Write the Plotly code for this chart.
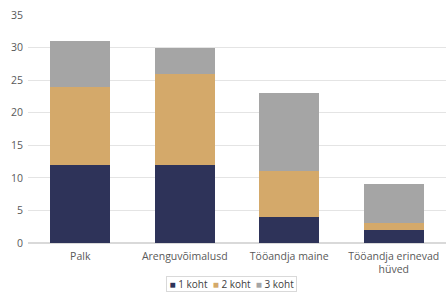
import plotly.graph_objects as go

categories = ["Palk", "Arenguvõimalusd", "Tööandja maine", "Tööandja erinevad<br>hüved"]
series_names = ["1 koht", "2 koht", "3 koht"]
koht1 = [12, 12, 4, 2]
koht2 = [12, 14, 7, 1]
koht3 = [7, 4, 12, 6]
colors = ["#2E3359", "#D4A96A", "#A5A5A5"]

fig = go.Figure()
for name, vals, c in zip(series_names, [koht1, koht2, koht3], colors):
    fig.add_trace(go.Bar(x=categories, y=vals, name=name, showlegend=False,
                         marker=dict(color=c, line=dict(width=0))))

legend_text = "&nbsp;&nbsp;".join(
    f"<span style='color:{c};font-size:10px'>■</span>&nbsp;{n}" for n, c in zip(series_names, colors)
)
fig.add_annotation(
    text="&nbsp;" + legend_text + "&nbsp;", xref="paper", yref="paper", x=0.486, y=-0.178,
    xanchor="center", yanchor="middle", showarrow=False,
    bordercolor="#D9D9D9", borderwidth=1, borderpad=0,
    font=dict(size=10, color="#404040"),
)

fig.update_layout(
    barmode="stack",
    bargap=0.43,
    width=446, height=292,
    margin=dict(l=28, r=0, t=15, b=49, autoexpand=False),
    paper_bgcolor="white", plot_bgcolor="white",
    font=dict(family="Open Sans, sans-serif", size=10.5, color="#595959"),
    xaxis=dict(showgrid=False, showline=False, ticks="", ticklabelstandoff=5),
    yaxis=dict(range=[0, 35], dtick=5, gridcolor="#E4E4E4", gridwidth=1,
               zeroline=True, zerolinecolor="#D9D9D9", ticks="", ticklabelstandoff=4),
)
fig.write_html("out.html", config={"displayModeBar": False},
               post_script="document.body.style.margin='0';")
